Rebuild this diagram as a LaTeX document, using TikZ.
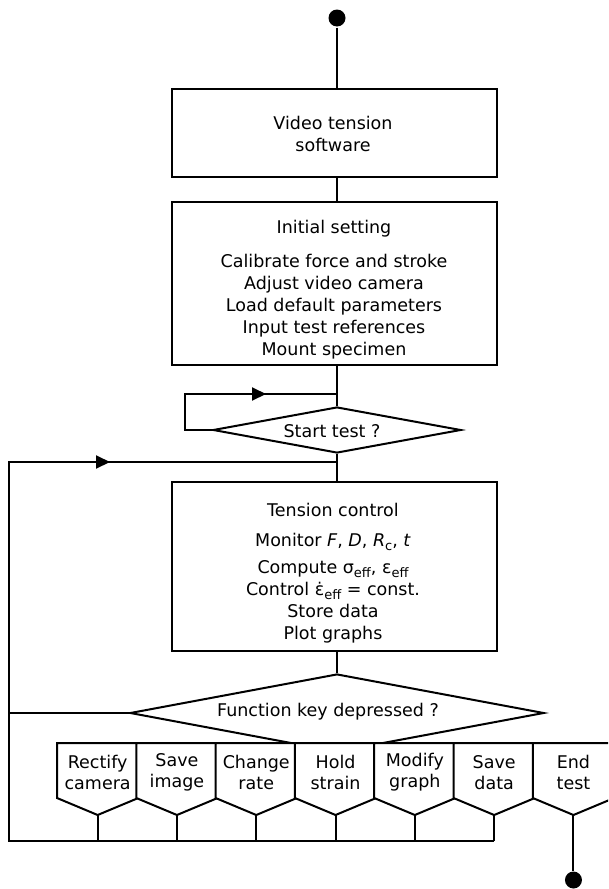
\documentclass[tikz,border=0pt]{standalone}
\usepackage{fontspec}
\setmainfont{DejaVu Sans}
\usetikzlibrary{arrows.meta,shapes.geometric,calc}
\newcommand{\effsub}{\raisebox{-0.4ex}{\fontsize{13}{13}\selectfont eff}}
\newcommand{\csub}{\raisebox{-0.4ex}{\fontsize{13}{13}\selectfont c}}
\begin{document}
\begin{tikzpicture}[x=1pt,y=-1pt,
  line width=2pt, line join=miter,
  every node/.style={font=\fontsize{17.5}{22}\selectfont},
  procbox/.style={draw, rectangle, inner sep=0pt, minimum width=325pt},
  boxtext/.style={inner sep=0pt, align=center},
  keybox/.style={rectangle, inner sep=0pt, minimum width=79.3pt, minimum height=53pt, align=center, font=\fontsize{17.5}{21}\selectfont},
  decision/.style={draw, diamond, inner sep=0pt},
  tri/.style={-{Triangle[length=14pt,width=13pt]}},
  dotend/.style={circle, fill, inner sep=0pt, minimum size=17pt}
]
\useasboundingbox (0,0) rectangle (608,889);
\clip (0,0) rectangle (608,889);
\coordinate (c) at (337,0);

% start
\node[dotend] (top) at (337,18) {};
\node[procbox, minimum height=88pt] (b1) at (334.5,133) {};
\node[boxtext] (b1t) at (333,134) {Video tension\\software};
\node[procbox, minimum height=163pt] (b2) at (334.5,283.5) {};
\node[boxtext] (b2t) at (334,290) {Initial setting\\[12pt]
  Calibrate force and stroke\\Adjust video camera\\Load default parameters\\Input test references\\Mount specimen};
\node[decision, minimum width=248pt, minimum height=46pt, aspect=5.4] (d1) at (337,430) {};
\node (d1t) at (332,431) {Start test ?};
\node[procbox, minimum height=169pt] (b3) at (334.5,566.5) {};
\node[boxtext] (b3t) at (333,573.5) {Tension control\\[8pt]
  Monitor \textit{F}, \textit{D}, \textit{R}\csub, \textit{t}\\[5pt]
  Compute σ\effsub, ε\effsub\\
  Control ε̇\effsub{} = const.\\
  Store data\\Plot graphs};
\node[decision, minimum width=414pt, minimum height=78pt, aspect=5.3] (d2) at (337,713) {};
\node (d2t) at (328,712) {Function key depressed ?};

% connectors in the main column
\draw (top) -- (b1.north -| c);
\draw (b1.south -| c) -- (b2.north -| c);
\draw (b2.south -| c) -- (d1.north);
\draw (d1.south) -- (b3.north -| c);
\draw (b3.south -| c) -- (d2.north);

% start-test loop
\coordinate (s1) at (185,394);
\coordinate (a1) at (266,394);
\draw (d1.west) -| (s1) -- (s1 -| c);
\draw[tri] (s1) -- (a1);

% function keys
\foreach \i/\t [count=\n from 0] in {k1/{Rectify\\camera},k2/{Save\\image},k3/{Change\\rate},k4/{Hold\\strain},k5/{Modify\\graph},k6/{Save\\data},k7/{End\\test}} {
  \node[keybox] (\i) at ({58+79.3*(\n+0.5)},770.5) {};
  \coordinate (\i v) at ($(\i.south)+(0,17)$);
  \draw[fill=white] (\i.north west) -- (\i.south west) -- (\i v) -- (\i.south east) -- (\i.north east) -- cycle;
  \node[keybox] (\i t) at ($(\i)+(0,2)$) {\t};
}

% return loop
\coordinate (bl) at (9,841);
\coordinate (tl) at (9,462);
\coordinate (a2) at (110,462);
\foreach \i in {k1,k2,k3,k4,k5,k6} {
  \draw (\i v) -- (\i v |- bl);
}
\draw (k6v |- bl) -- (bl) -- (tl) -- (tl -| c);
\draw (d2.west) -- (d2.west -| bl);
\draw[tri] (tl) -- (a2);

% end
\node[dotend] (endd) at ($(k7v)+(0,65)$) {};
\draw (k7v) -- (endd);
\end{tikzpicture}
\end{document}
